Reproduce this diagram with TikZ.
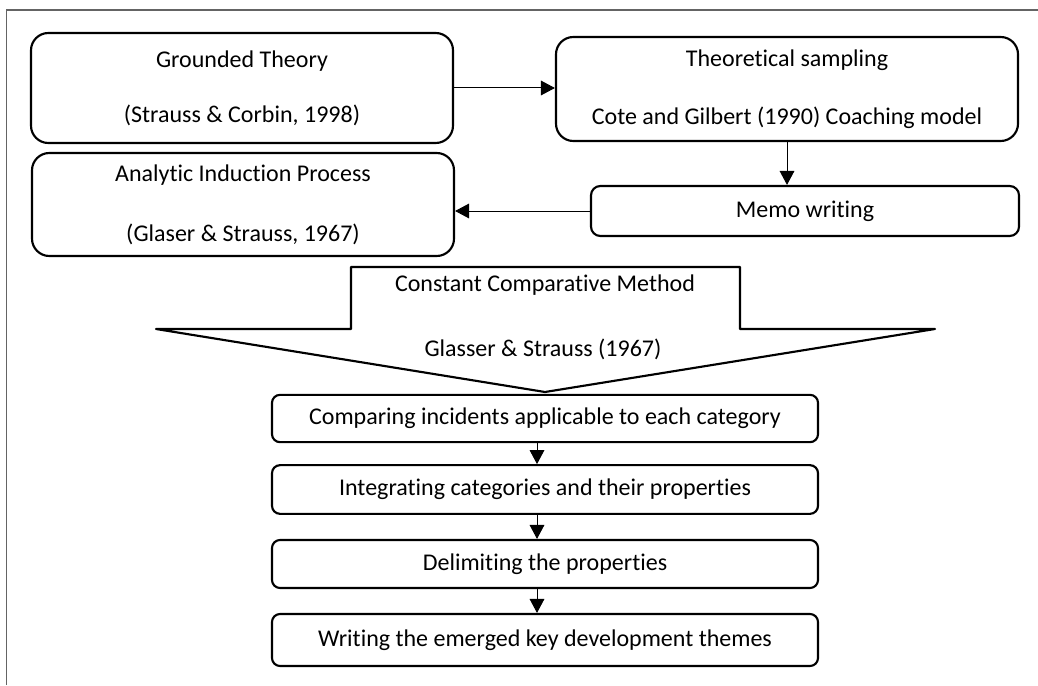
\documentclass[tikz,border=0pt]{standalone}
\usepackage{fontspec}
\setmainfont{Carlito}[Ligatures=NoCommon]
\usetikzlibrary{arrows.meta}
\definecolor{framegray}{RGB}{100,100,100}
\begin{document}
\begin{tikzpicture}[x=0.75pt,y=-0.75pt,
  txt/.style={font=\fontsize{18}{21.6}\selectfont},
  bigbox/.style={draw, line width=1.6pt, rounded corners=13pt, align=center, inner sep=0pt, txt},
  smallbox/.style={draw, line width=1.6pt, rounded corners=6pt, align=center, inner sep=0pt, txt},
  arr/.style={-{Triangle[length=10.5pt,width=11pt]}, line width=0.75pt},
  lbl/.style={inner sep=0pt, txt}]
\useasboundingbox (0,0) rectangle (1038,685);
% frame
\draw[framegray, line width=1.2pt] (6.5,685) -- (6.5,10) -- (1038,10);

% top boxes
\node[bigbox, minimum width=316.5pt, minimum height=82.5pt] (gt) at (242,88)
  {Grounded Theory\\[19.65pt](Strauss \& Corbin, 1998)};
\node[bigbox, minimum width=346.5pt, minimum height=78pt] (ts) at (787,89)
  {Theoretical sampling\\[21.9pt]Cote and Gilbert (1990) Coaching model};
\node[bigbox, minimum width=316.5pt, minimum height=77.25pt] (an) at (243,204.5)
  {Analytic Induction Process\\[23.4pt](Glaser \& Strauss, 1967)};
\node[smallbox, rounded corners=7pt, minimum width=321pt, minimum height=37.5pt] (memo) at (805,211)
  {Memo writing};

\draw[arr] (gt.east) -- (gt.east -| ts.west);
\draw[arr] (ts.south) -- (ts.south |- memo.north);
\draw[arr] (memo.west) -- (memo.west -| an.east);

% big arrow
\draw[line width=1.6pt, line join=round] (351,267) -- (740,267) -- (740,329) -- (935,329)
  -- (545,392) -- (156,329) -- (351,329) -- cycle;
\node[lbl] (ccm) at (545,285) {Constant Comparative Method};
\node[lbl] (gs) at (543,349) {Glasser \& Strauss (1967)};

% lower boxes
\node[smallbox, minimum width=409.5pt, minimum height=35.5pt] (cmp) at (545,418.5)
  {Comparing incidents applicable to each category};
\node[smallbox, minimum width=409.5pt, minimum height=36.5pt] (int) at (545,489.5)
  {Integrating categories and their properties};
\node[smallbox, minimum width=409.5pt, minimum height=36pt] (del) at (545,564)
  {Delimiting the properties};
\node[smallbox, minimum width=409.5pt, minimum height=39pt] (wri) at (545,640)
  {Writing the emerged key development themes};

\draw[arr] ([xshift=-6pt]cmp.south) -- ([xshift=-6pt]int.north);
\draw[arr] ([xshift=-6pt]int.south) -- ([xshift=-6pt]del.north);
\draw[arr] ([xshift=-6pt]del.south) -- ([xshift=-6pt]wri.north);
\end{tikzpicture}
\end{document}
